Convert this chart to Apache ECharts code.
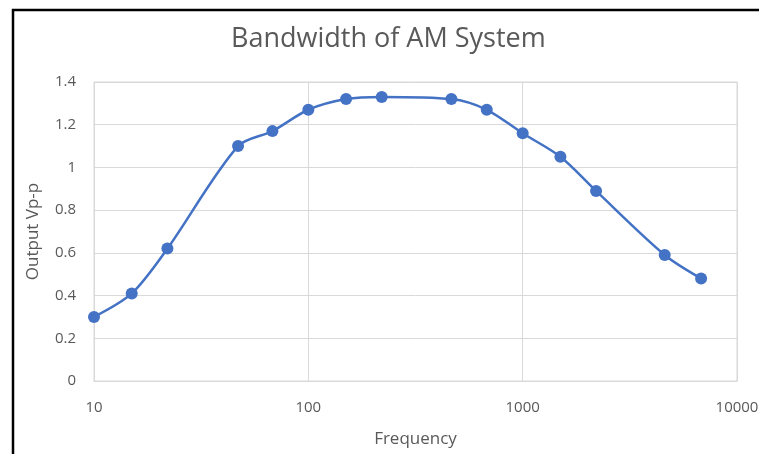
<!DOCTYPE html>
<html>
<head>
<meta charset="utf-8">
<script src="https://cdn.jsdelivr.net/npm/echarts@6/dist/echarts.min.js"></script>
<style>
  html, body { margin: 0; padding: 0; background: #fff; }
  #chart { width: 759px; height: 454px; }
</style>
</head>
<body>
<div id="chart"></div>
<script>
// Measured response of the AM system across frequency
const frequencies = [10, 15, 22, 47, 68, 100, 150, 220, 465, 680, 1000, 1500, 2200, 4600, 6800];
const outputVpp   = [0.30, 0.41, 0.62, 1.10, 1.17, 1.27, 1.32, 1.33, 1.32, 1.27, 1.16, 1.05, 0.89, 0.59, 0.48];
const yTicks = [0, 0.2, 0.4, 0.6, 0.8, 1, 1.2, 1.4];

const textColor = '#595959';
const gridColor = '#d9d9d9';
const fontFamily = '"Open Sans", "Liberation Sans", sans-serif';

const chart = echarts.init(document.getElementById('chart'));
chart.setOption({
  animation: false,
  backgroundColor: '#ffffff',
  title: {
    text: 'Bandwidth of AM System',
    left: 226,
    top: 21,
    textStyle: { color: textColor, fontSize: 27, fontWeight: 'normal', fontFamily }
  },
  grid: {
    left: 94, right: 22, top: 82, bottom: 73,
    outerBoundsMode: 'none',
    containLabel: false,
    show: true, borderColor: gridColor, borderWidth: 1
  },
  xAxis: {
    type: 'log',
    logBase: 10,
    min: 10,
    max: 10000,
    name: 'Frequency',
    nameLocation: 'middle',
    nameGap: 50,
    nameTextStyle: { color: textColor, fontSize: 17, fontFamily },
    axisLine: { show: true, lineStyle: { color: gridColor } },
    axisTick: { show: false },
    splitLine: { show: true, lineStyle: { color: gridColor } },
    axisLabel: { color: textColor, fontSize: 15, fontFamily, margin: 19, formatter: v => String(Math.round(v)) }
  },
  yAxis: {
    type: 'value',
    min: 0,
    max: 1.4,
    interval: 0.2,
    name: 'Output Vp-p',
    nameLocation: 'middle',
    nameGap: 52,
    nameTextStyle: { color: textColor, fontSize: 17, fontFamily },
    axisLine: { show: false },
    axisTick: { show: false },
    splitLine: { show: true, lineStyle: { color: gridColor } },
    axisLabel: {
      color: textColor, fontSize: 15, fontFamily, margin: 18,
      formatter: v => {
        const t = yTicks.find(k => Math.abs(k - v) < 1e-9);
        return t === undefined ? '' : String(t);
      }
    }
  },
  series: [{
    type: 'line',
    data: frequencies.map((f, i) => [f, outputVpp[i]]),
    smooth: 0.3,
    symbol: 'circle',
    symbolSize: 12,
    lineStyle: { color: '#4472C4', width: 2.5 },
    itemStyle: { color: '#4472C4' }
  }],
  graphic: [{
    type: 'rect',
    shape: { x: 13, y: 10, width: 800, height: 500 },
    style: { fill: 'none', stroke: '#000', lineWidth: 2.5 },
    silent: true,
    z: 100
  }]
});
</script>
</body>
</html>
